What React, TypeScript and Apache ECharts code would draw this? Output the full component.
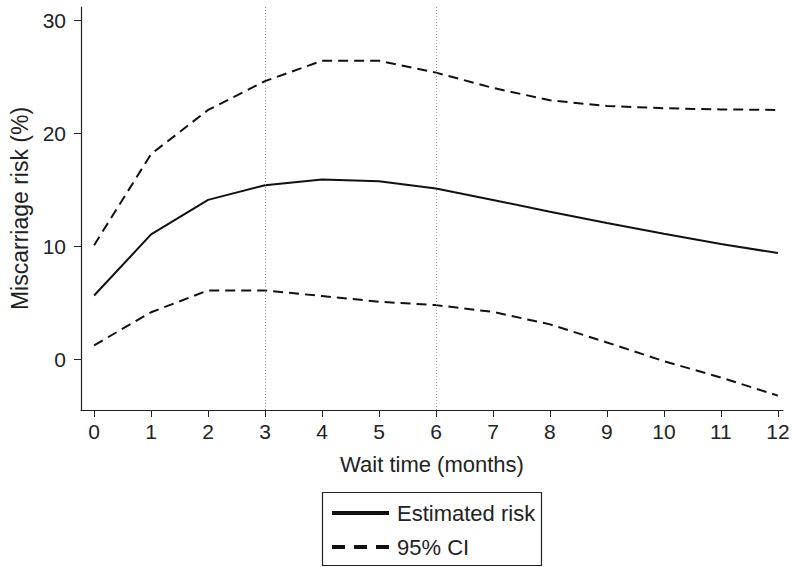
import React, { useEffect, useRef } from "react";
import * as echarts from "echarts";

const months = [0, 1, 2, 3, 4, 5, 6, 7, 8, 9, 10, 11, 12];
const estimatedRisk = [5.65, 11.05, 14.1, 15.4, 15.9, 15.75, 15.1, 14.1, 13.05, 12.05, 11.1, 10.2, 9.4];
const upperCI = [10.1, 18.15, 22.05, 24.6, 26.4, 26.4, 25.35, 24.0, 22.9, 22.4, 22.2, 22.1, 22.05];
const lowerCI = [1.25, 4.17, 6.1, 6.1, 5.6, 5.1, 4.8, 4.2, 3.1, 1.5, -0.15, -1.6, -3.2];
const yTicks = [0, 10, 20, 30];
const markMonths = [3, 6];

const FONT = "'Liberation Sans', Arial, Helvetica, sans-serif";
const TEXT = "#222";

export default function App() {
  const ref = useRef<HTMLDivElement>(null);
  useEffect(() => {
    if (!ref.current) return;
    const chart = echarts.init(ref.current, null, { renderer: "svg" });
    const pts = (arr: number[]) => months.map((m, i) => [m, arr[i]]);
    const ciStyle = { color: "#111", width: 2, type: [10, 6] as any };
    chart.setOption({
      animation: false,
      backgroundColor: "#fff",
      textStyle: { fontFamily: FONT },
      grid: { left: 81, right: 10, top: 7, bottom: 157, containLabel: false },
      xAxis: {
        type: "value",
        min: -0.23,
        max: 12.09,
        name: "Wait time (months)",
        nameLocation: "middle",
        nameGap: 43,
        nameTextStyle: { fontSize: 22, color: TEXT, fontFamily: FONT },
        axisLine: { show: true, onZero: false, lineStyle: { color: "#222", width: 1.2 } },
        axisTick: { show: true, inside: false, length: 7, customValues: months, lineStyle: { color: "#222" } },
        axisLabel: { fontSize: 21, color: TEXT, margin: 11, customValues: months, fontFamily: FONT },
        splitLine: { show: false },
      },
      yAxis: {
        type: "value",
        min: -4.47,
        max: 31.15,
        name: "Miscarriage risk (%)",
        nameLocation: "middle",
        nameGap: 41,
        nameRotate: 90,
        nameTextStyle: { fontSize: 23, color: TEXT, fontFamily: FONT },
        axisLine: { show: true, onZero: false, lineStyle: { color: "#222", width: 1.2 } },
        axisTick: { show: true, inside: false, length: 7, customValues: yTicks, lineStyle: { color: "#222" } },
        axisLabel: { fontSize: 21, color: TEXT, margin: 15, customValues: yTicks, fontFamily: FONT },
        splitLine: { show: false },
      },
      series: [
        {
          name: "Estimated risk",
          type: "line",
          data: pts(estimatedRisk),
          symbol: "none",
          lineStyle: { color: "#111", width: 2 },
          markLine: {
            silent: true,
            symbol: "none",
            label: { show: false },
            lineStyle: { color: "#999", width: 1, type: [1, 2] as any },
            data: markMonths.map((m) => ({ xAxis: m })),
          },
        },
        { name: "95% CI upper", type: "line", data: pts(upperCI), symbol: "none", lineStyle: ciStyle },
        { name: "95% CI lower", type: "line", data: pts(lowerCI), symbol: "none", lineStyle: ciStyle },
      ],
      graphic: [
        {
          type: "rect",
          shape: { x: 322.5, y: 492.5, width: 219, height: 73 },
          style: { fill: "#fff", stroke: "#222", lineWidth: 1.2 },
        },
        {
          type: "line",
          shape: { x1: 332, y1: 513, x2: 389, y2: 513 },
          style: { stroke: "#111", lineWidth: 4 },
        },
        {
          type: "line",
          shape: { x1: 332, y1: 547, x2: 389, y2: 547 },
          style: { stroke: "#111", lineWidth: 4, lineDash: [13, 9] },
        },
        {
          type: "text",
          x: 397,
          y: 513,
          style: { text: "Estimated risk", fontSize: 22, fill: TEXT, fontFamily: FONT, verticalAlign: "middle" },
        },
        {
          type: "text",
          x: 397,
          y: 547,
          style: { text: "95% CI", fontSize: 22, fill: TEXT, fontFamily: FONT, verticalAlign: "middle" },
        },
      ],
    });
    return () => chart.dispose();
  }, []);
  return <div ref={ref} style={{ width: 793, height: 567, position: "absolute", left: 0, top: 0 }} />;
}
